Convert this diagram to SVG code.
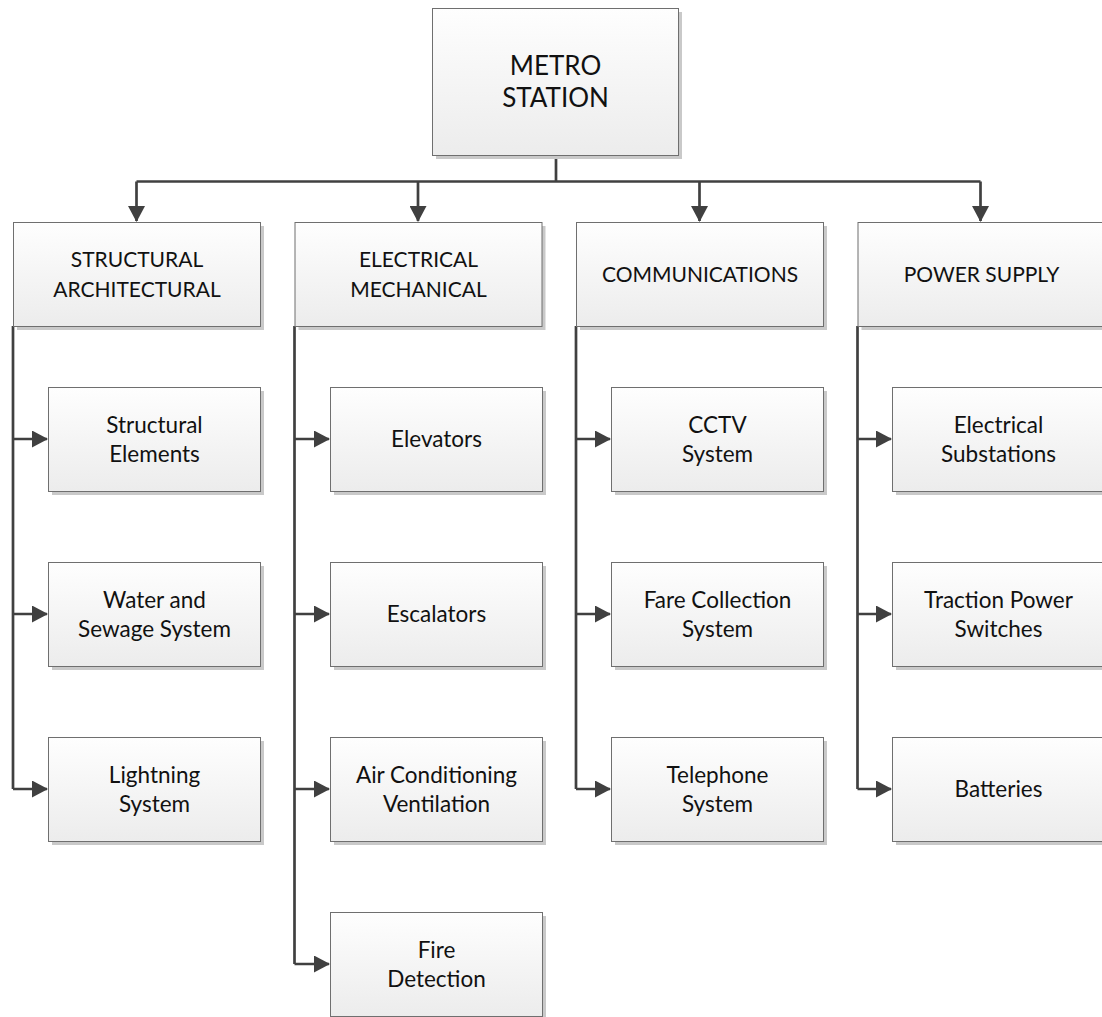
<svg xmlns="http://www.w3.org/2000/svg" width="1102" height="1017" viewBox="0 0 1102 1017">
  <defs>
    <linearGradient id="boxFill" x1="0" y1="0" x2="0" y2="1">
      <stop offset="0" stop-color="#fefefe"/>
      <stop offset="1" stop-color="#ececec"/>
    </linearGradient>
    <marker id="arrow" markerUnits="userSpaceOnUse" markerWidth="16" markerHeight="17" refX="15" refY="8.5" orient="auto">
      <path d="M0,0 L16,8.5 L0,17 Z" fill="#404040"/>
    </marker>
  </defs>
  <style>
    .shadow { fill: #c9c9c9; }
    .box { fill: url(#boxFill); stroke: #6f6f6f; stroke-width: 1; }
    .lbl { font-family: Lato, "Liberation Sans", sans-serif; font-size: 22.5px; fill: #111; text-anchor: middle; }
    .cat { font-size: 21px; }
    .root { font-size: 26px; }
    .wire { fill: none; stroke: #404040; stroke-width: 2.7; }
  </style>

  <rect width="1102" height="1017" fill="#ffffff"/>

  <!-- connectors -->
  <g id="connectors">
    <path class="wire" d="M556,155 V181.5"/>
    <path class="wire" d="M136.5,181.5 H980.5"/>
    <path class="wire" d="M136.5,181.5 V221" marker-end="url(#arrow)"/>
    <path class="wire" d="M418,181.5 V221" marker-end="url(#arrow)"/>
    <path class="wire" d="M699.5,181.5 V221" marker-end="url(#arrow)"/>
    <path class="wire" d="M980.5,181.5 V221" marker-end="url(#arrow)"/>

    <!-- structural architectural branch -->
    <path class="wire" d="M13,326 V789"/>
    <path class="wire" d="M13,439 H47" marker-end="url(#arrow)"/>
    <path class="wire" d="M13,614 H47" marker-end="url(#arrow)"/>
    <path class="wire" d="M13,789 H47" marker-end="url(#arrow)"/>

    <!-- electrical mechanical branch -->
    <path class="wire" d="M294.5,326 V964"/>
    <path class="wire" d="M294.5,439 H329" marker-end="url(#arrow)"/>
    <path class="wire" d="M294.5,614 H329" marker-end="url(#arrow)"/>
    <path class="wire" d="M294.5,789 H329" marker-end="url(#arrow)"/>
    <path class="wire" d="M294.5,964 H329" marker-end="url(#arrow)"/>

    <!-- communications branch -->
    <path class="wire" d="M576,326 V789"/>
    <path class="wire" d="M576,439 H610" marker-end="url(#arrow)"/>
    <path class="wire" d="M576,614 H610" marker-end="url(#arrow)"/>
    <path class="wire" d="M576,789 H610" marker-end="url(#arrow)"/>

    <!-- power supply branch -->
    <path class="wire" d="M857.5,326 V789"/>
    <path class="wire" d="M857.5,439 H891" marker-end="url(#arrow)"/>
    <path class="wire" d="M857.5,614 H891" marker-end="url(#arrow)"/>
    <path class="wire" d="M857.5,789 H891" marker-end="url(#arrow)"/>
  </g>

  <!-- top node -->
  <g id="metro-station">
    <rect class="shadow" x="436" y="12" width="246" height="147"/>
    <rect class="box" x="432.5" y="8.5" width="246" height="147"/>
    <text class="lbl root" x="555.5" y="75">METRO</text>
    <text class="lbl root" x="555.5" y="107">STATION</text>
  </g>

  <!-- category nodes -->
  <g id="structural-architectural">
    <rect class="shadow" x="17" y="226" width="247" height="104"/>
    <rect class="box" x="13.5" y="222.5" width="247" height="104"/>
    <text class="lbl cat" x="137" y="267">STRUCTURAL</text>
    <text class="lbl cat" x="137" y="297">ARCHITECTURAL</text>
  </g>
  <g id="electrical-mechanical">
    <rect class="shadow" x="298.5" y="226" width="247" height="104"/>
    <rect class="box" x="295" y="222.5" width="247" height="104"/>
    <text class="lbl cat" x="418.5" y="267">ELECTRICAL</text>
    <text class="lbl cat" x="418.5" y="297">MECHANICAL</text>
  </g>
  <g id="communications">
    <rect class="shadow" x="580" y="226" width="247" height="104"/>
    <rect class="box" x="576.5" y="222.5" width="247" height="104"/>
    <text class="lbl cat" x="700" y="282">COMMUNICATIONS</text>
  </g>
  <g id="power-supply">
    <rect class="shadow" x="861.5" y="226" width="247" height="104"/>
    <rect class="box" x="858" y="222.5" width="247" height="104"/>
    <text class="lbl cat" x="981.5" y="282">POWER SUPPLY</text>
  </g>

  <!-- structural architectural items -->
  <g id="structural-elements">
    <rect class="shadow" x="52" y="391" width="212" height="104"/>
    <rect class="box" x="48.5" y="387.5" width="212" height="104"/>
    <text class="lbl" x="154.5" y="433">Structural</text>
    <text class="lbl" x="154.5" y="462">Elements</text>
  </g>
  <g id="water-sewage">
    <rect class="shadow" x="52" y="566" width="212" height="104"/>
    <rect class="box" x="48.5" y="562.5" width="212" height="104"/>
    <text class="lbl" x="154.5" y="608">Water and</text>
    <text class="lbl" x="154.5" y="637">Sewage System</text>
  </g>
  <g id="lightning-system">
    <rect class="shadow" x="52" y="741" width="212" height="104"/>
    <rect class="box" x="48.5" y="737.5" width="212" height="104"/>
    <text class="lbl" x="154.5" y="783">Lightning</text>
    <text class="lbl" x="154.5" y="812">System</text>
  </g>

  <!-- electrical mechanical items -->
  <g id="elevators">
    <rect class="shadow" x="334" y="391" width="212" height="104"/>
    <rect class="box" x="330.5" y="387.5" width="212" height="104"/>
    <text class="lbl" x="436.5" y="447">Elevators</text>
  </g>
  <g id="escalators">
    <rect class="shadow" x="334" y="566" width="212" height="104"/>
    <rect class="box" x="330.5" y="562.5" width="212" height="104"/>
    <text class="lbl" x="436.5" y="622">Escalators</text>
  </g>
  <g id="air-conditioning">
    <rect class="shadow" x="334" y="741" width="212" height="104"/>
    <rect class="box" x="330.5" y="737.5" width="212" height="104"/>
    <text class="lbl" x="436.5" y="783">Air Conditioning</text>
    <text class="lbl" x="436.5" y="812">Ventilation</text>
  </g>
  <g id="fire-detection">
    <rect class="shadow" x="334" y="916" width="212" height="104"/>
    <rect class="box" x="330.5" y="912.5" width="212" height="104"/>
    <text class="lbl" x="436.5" y="958">Fire</text>
    <text class="lbl" x="436.5" y="987">Detection</text>
  </g>

  <!-- communications items -->
  <g id="cctv-system">
    <rect class="shadow" x="615" y="391" width="212" height="104"/>
    <rect class="box" x="611.5" y="387.5" width="212" height="104"/>
    <text class="lbl" x="717.5" y="433">CCTV</text>
    <text class="lbl" x="717.5" y="462">System</text>
  </g>
  <g id="fare-collection">
    <rect class="shadow" x="615" y="566" width="212" height="104"/>
    <rect class="box" x="611.5" y="562.5" width="212" height="104"/>
    <text class="lbl" x="717.5" y="608">Fare Collection</text>
    <text class="lbl" x="717.5" y="637">System</text>
  </g>
  <g id="telephone-system">
    <rect class="shadow" x="615" y="741" width="212" height="104"/>
    <rect class="box" x="611.5" y="737.5" width="212" height="104"/>
    <text class="lbl" x="717.5" y="783">Telephone</text>
    <text class="lbl" x="717.5" y="812">System</text>
  </g>

  <!-- power supply items -->
  <g id="electrical-substations">
    <rect class="shadow" x="896" y="391" width="212" height="104"/>
    <rect class="box" x="892.5" y="387.5" width="212" height="104"/>
    <text class="lbl" x="998.5" y="433">Electrical</text>
    <text class="lbl" x="998.5" y="462">Substations</text>
  </g>
  <g id="traction-power-switches">
    <rect class="shadow" x="896" y="566" width="212" height="104"/>
    <rect class="box" x="892.5" y="562.5" width="212" height="104"/>
    <text class="lbl" x="998.5" y="608">Traction Power</text>
    <text class="lbl" x="998.5" y="637">Switches</text>
  </g>
  <g id="batteries">
    <rect class="shadow" x="896" y="741" width="212" height="104"/>
    <rect class="box" x="892.5" y="737.5" width="212" height="104"/>
    <text class="lbl" x="998.5" y="797">Batteries</text>
  </g>
</svg>
